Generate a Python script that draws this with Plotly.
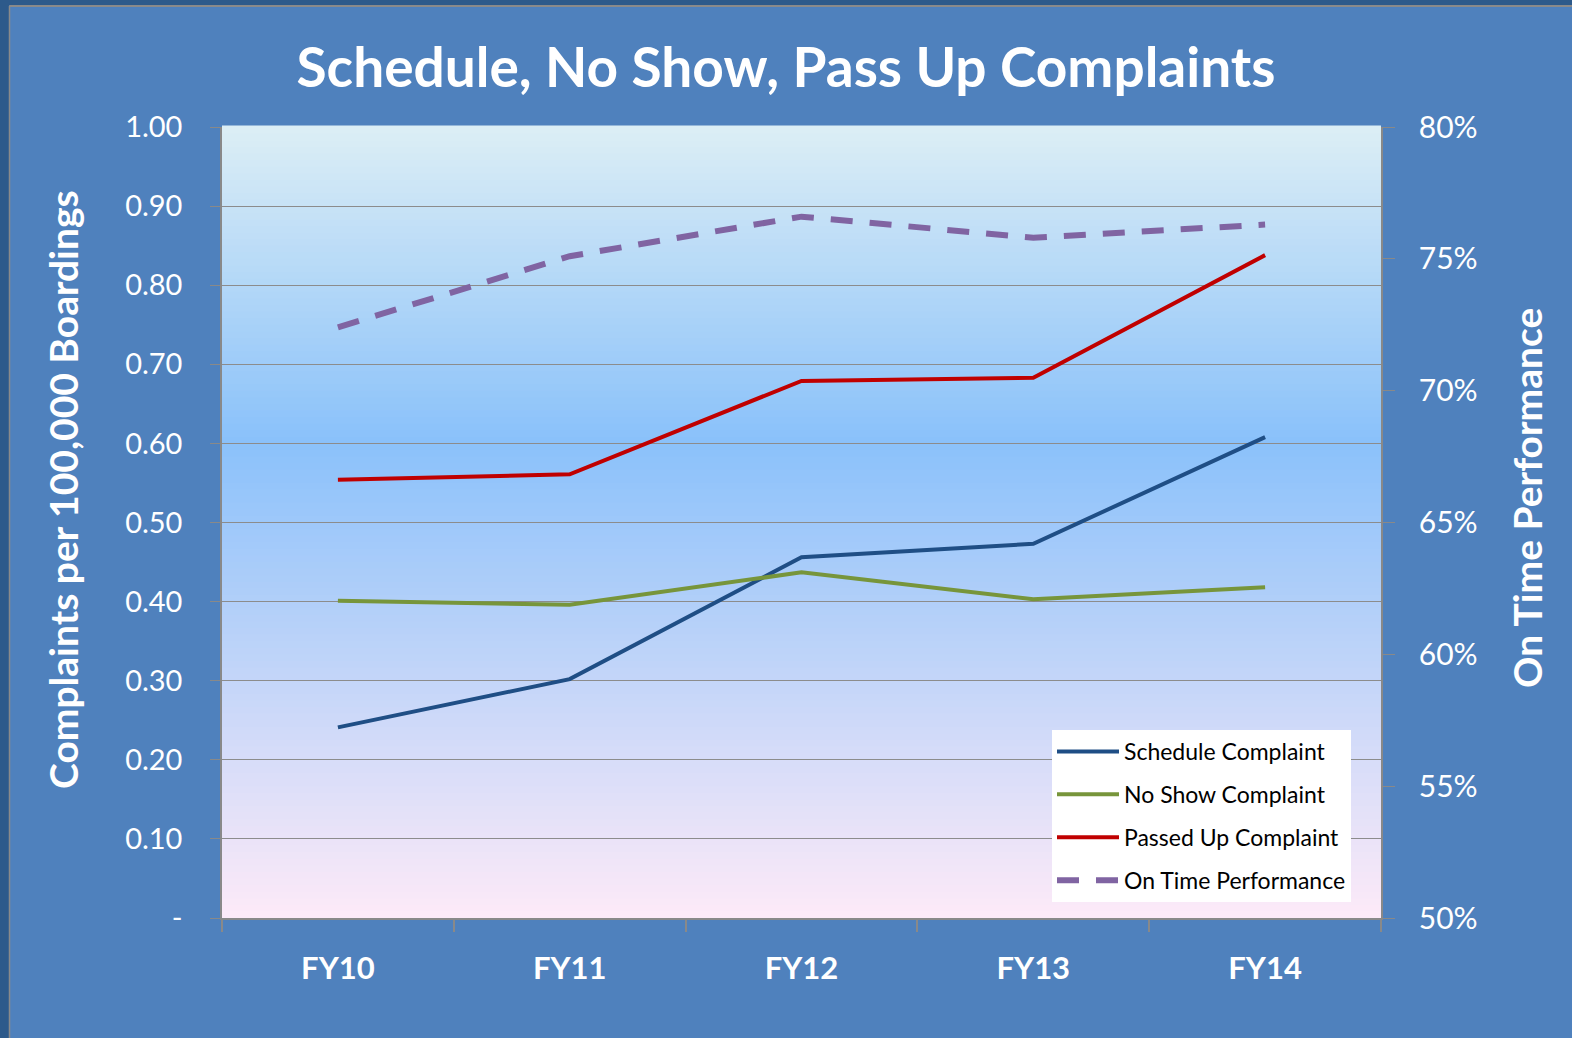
import plotly.graph_objects as go

categories = ["FY10", "FY11", "FY12", "FY13", "FY14"]
schedule = [0.241, 0.302, 0.456, 0.473, 0.608]
no_show = [0.401, 0.396, 0.437, 0.403, 0.418]
passed_up = [0.554, 0.561, 0.679, 0.683, 0.838]
on_time = [0.724, 0.751, 0.766, 0.758, 0.763]

left_tickvals = [0, 0.1, 0.2, 0.3, 0.4, 0.5, 0.6, 0.7, 0.8, 0.9, 1.0]
left_ticktext = ["-", "0.10", "0.20", "0.30", "0.40", "0.50", "0.60", "0.70", "0.80", "0.90", "1.00"]

W, H = 1572, 1038
L, R, T, B = 222, 1381, 127, 918
FONT = "Lato"


def px(x):
    return (x - L) / (R - L)


def py(y):
    return (B - y) / (B - T)


fig = go.Figure()
fig.add_trace(go.Scatter(x=categories, y=schedule, name="Schedule Complaint", mode="lines",
                         line=dict(color="#1F4E85", width=4), legendgroup="a"))
fig.add_trace(go.Scatter(x=categories, y=no_show, name="No Show Complaint", mode="lines",
                         line=dict(color="#77953B", width=4), legendgroup="b"))
fig.add_trace(go.Scatter(x=categories, y=passed_up, name="Passed Up Complaint", mode="lines",
                         line=dict(color="#C00000", width=4), legendgroup="c"))
fig.add_trace(go.Scatter(x=categories, y=on_time, name="On Time Performance", mode="lines",
                         line=dict(color="#8064A2", width=6, dash="22px,17px"), yaxis="y2",
                         legendgroup="d"))

shapes = []
# gradient plot background
stops = [(0.0, (253, 234, 248)), (0.604, (138, 193, 250)), (1.0, (220, 238, 245))]


def col(t):
    for i in range(len(stops) - 1):
        a, ca = stops[i]
        b, cb = stops[i + 1]
        if a <= t <= b:
            f = (t - a) / (b - a)
            return "rgb(%d,%d,%d)" % tuple(round(ca[k] + (cb[k] - ca[k]) * f) for k in range(3))
    return "rgb(%d,%d,%d)" % stops[-1][1]


N = 120
for i in range(N):
    y0 = i / N
    y1 = (i + 1) / N
    shapes.append(dict(type="rect", xref="paper", yref="paper", x0=0, x1=1, y0=y0, y1=y1 + 0.002,
                       fillcolor=col((y0 + y1) / 2), line=dict(width=0), layer="below"))

# outer slide frame
shapes.append(dict(type="rect", xref="paper", yref="paper", x0=px(0), x1=px(W), y0=py(0), y1=py(5),
                   fillcolor="#2D5A8B", line=dict(width=0), layer="below"))
shapes.append(dict(type="rect", xref="paper", yref="paper", x0=px(0), x1=px(9), y0=py(0), y1=py(H),
                   fillcolor="#2D5A8B", line=dict(width=0), layer="below"))
shapes.append(dict(type="line", xref="paper", yref="paper", x0=px(9.5), x1=px(W), y0=py(6), y1=py(6),
                   line=dict(color="#8A8A8A", width=2), layer="below"))
shapes.append(dict(type="line", xref="paper", yref="paper", x0=px(9.5), x1=px(9.5), y0=py(6), y1=py(H),
                   line=dict(color="#8A8A8A", width=1.5), layer="below"))

annotations = [
    dict(text="<b>Complaints per 100,000 Boardings</b>", xref="paper", yref="paper",
         x=px(63), y=py(490), textangle=-90, showarrow=False,
         font=dict(family=FONT, size=39, color="white"), xanchor="center", yanchor="middle"),
    dict(text="<b>On Time Performance</b>", xref="paper", yref="paper",
         x=px(1527), y=py(498), textangle=-90, showarrow=False,
         font=dict(family=FONT, size=39, color="white"), xanchor="center", yanchor="middle"),
]

fig.update_layout(
    width=W, height=H,
    margin=dict(l=L, r=W - R, t=T, b=H - B, pad=0),
    paper_bgcolor="#4F81BD",
    plot_bgcolor="rgba(0,0,0,0)",
    title=dict(text="<b>Schedule, No Show, Pass Up Complaints</b>", x=0.5, xanchor="center",
               y=1 - 68 / H, yanchor="middle",
               font=dict(family=FONT, size=55, color="white")),
    shapes=shapes,
    annotations=annotations,
    showlegend=True,
    legend=dict(x=px(1052), y=py(730), xanchor="left", yanchor="top", bgcolor="white",
                font=dict(family=FONT, size=23, color="black"), tracegroupgap=10,
                itemwidth=62),
    xaxis=dict(type="category", tickson="boundaries", ticks="outside", ticklen=12, tickwidth=2,
               tickcolor="#898989", showline=True, linecolor="#898989", linewidth=2,
               showgrid=False, tickfont=dict(family=FONT, size=31, color="white", weight="bold"),
               ticklabelstandoff=22, range=[-0.5, 4.5]),
    yaxis=dict(range=[0, 1.0], tickvals=left_tickvals, ticktext=left_ticktext, ticks="outside",
               ticklen=10, tickcolor="#898989", showline=True, linecolor="#898989", linewidth=1.5,
               showgrid=True, gridcolor="#8C8C8C", gridwidth=1, zeroline=False,
               tickfont=dict(family=FONT, size=29, color="white"), ticklabelstandoff=22),
    yaxis2=dict(range=[0.5, 0.8], dtick=0.05, tickformat=".0%", overlaying="y", side="right",
                ticks="outside", ticklen=12, tickcolor="#898989", showline=True,
                linecolor="#898989", linewidth=1.5, showgrid=False, zeroline=False,
                tickfont=dict(family=FONT, size=30, color="white"), ticklabelstandoff=18),
)

fig.write_html("out.html", config={"displayModeBar": False},
               post_script="document.body.style.margin='0';")
